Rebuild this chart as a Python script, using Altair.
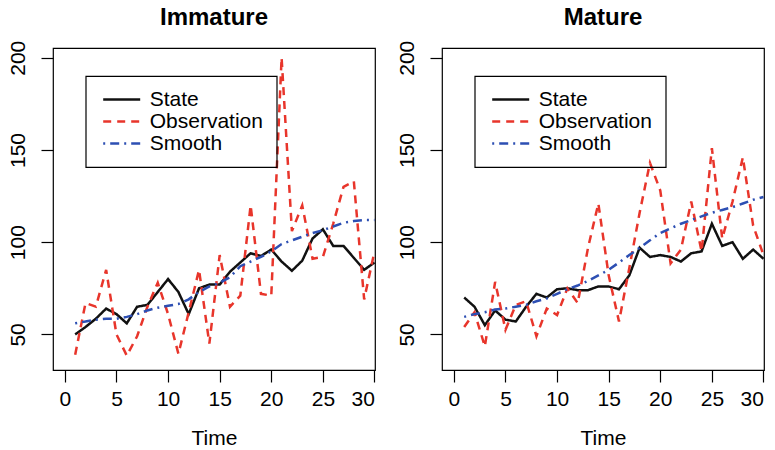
import altair as alt
import pandas as pd

# ---------------- data ----------------
time = list(range(1, 31))

imm_state = [50, 54, 58.5, 64, 61, 56, 65, 66, 73, 80, 73, 61, 75, 77, 77,
             84, 89, 94, 92.5, 96, 89.5, 84.5, 90, 102, 107, 98, 98, 91.5, 85, 89]
imm_obs = [39, 67, 65, 85, 50, 38.5, 49, 65, 78, 61, 39.5, 62, 85, 45, 93,
           65, 71, 120, 72, 71, 200, 106, 120, 91, 92, 110, 130, 133, 69, 95]
imm_smooth = [56, 57, 58, 58.5, 58.5, 59.5, 61, 63, 64.5, 65.5, 66.5, 69, 73, 76, 78,
              81, 87, 89.5, 92, 95, 99, 101, 103, 105, 106.5, 108.5, 110.5, 111.5, 112, 112]

mat_state = [70, 65, 55, 63, 58, 57, 65, 72, 70, 74.5, 75, 74, 74, 76, 76,
             74.5, 82, 97, 92, 93, 92, 89.5, 94, 95, 110, 98, 100, 91, 96, 91]
mat_obs = [54, 62, 43.5, 78.5, 52.5, 66, 68, 49, 64, 60.5, 75, 67, 97, 121, 82,
           57, 86, 116, 143, 128, 88.5, 96, 122, 95, 151, 102, 122, 146, 109, 93]
mat_smooth = [59.5, 61, 62, 63.5, 64, 65, 66, 68, 69.5, 72, 74.5, 76.5, 79, 82, 85,
              89, 93, 97, 101, 105, 107.5, 110, 112, 114, 116, 117.5, 119, 121, 123, 124.5]

series_order = ["State", "Observation", "Smooth"]
series_colors = ["#111111", "#e8352b", "#2d4fb3"]
series_dashes = [[1, 0], [8, 6], [2, 5, 9, 5]]

x_ticks = [0, 5, 10, 15, 20, 25, 30]
y_ticks = [50, 100, 150, 200]

FONT = "Liberation Sans"


def panel(title, state, obs, smooth):
    df = pd.DataFrame({
        "Time": time * 3,
        "value": state + obs + smooth,
        "series": ["State"] * 30 + ["Observation"] * 30 + ["Smooth"] * 30,
    })
    legend = alt.Legend(
        title=None, orient="none", legendX=32.7, legendY=28,
        strokeColor="black", padding=13, symbolType="stroke",
        symbolSize=1369, symbolStrokeWidth=2.5, symbolOffset=3,
        labelFontSize=21, labelFont=FONT, labelColor="black",
        labelOffset=8, rowPadding=0, clipHeight=21,
    )
    base = alt.Chart(df).mark_line(strokeWidth=2.5, clip=True).encode(
        x=alt.X("Time:Q",
                scale=alt.Scale(domain=[-1.15, 30.05], nice=False, zero=False),
                axis=alt.Axis(values=x_ticks, title="Time", format="d",
                              labelPadding=6, titlePadding=18)),
        y=alt.Y("value:Q",
                scale=alt.Scale(domain=[30.7, 205.3], nice=False, zero=False),
                axis=alt.Axis(values=y_ticks, title=None, labelAngle=270,
                              labelAlign="center", labelBaseline="bottom",
                              labelPadding=13)),
        color=alt.Color("series:N",
                        scale=alt.Scale(domain=series_order, range=series_colors),
                        legend=legend),
        strokeDash=alt.StrokeDash("series:N",
                                  scale=alt.Scale(domain=series_order, range=series_dashes),
                                  legend=legend),
    )
    layers = [base.transform_filter(alt.datum.series == s) for s in series_order]
    return alt.layer(*layers, title=alt.TitleParams(title, frame="group")).properties(
        width=322, height=322)


chart = alt.hconcat(
    panel("Immature", imm_state, imm_obs, imm_smooth),
    panel("Mature", mat_state, mat_obs, mat_smooth),
    spacing=67, bounds="flush",
    padding={"left": 6, "top": 5, "right": 0, "bottom": 0},
).resolve_scale(
    color="independent", strokeDash="independent"
).resolve_legend(
    color="independent", strokeDash="independent"
).configure_view(
    stroke="black", strokeWidth=1.2
).configure_axis(
    domain=False, grid=False, tickColor="black", tickSize=12, tickWidth=1.2,
    labelFont=FONT, labelFontSize=21, labelColor="black",
    titleFont=FONT, titleFontSize=21, titleFontWeight="normal", titleColor="black",
).configure_title(
    font=FONT, fontSize=24, fontWeight="bold", offset=10, anchor="middle", color="black"
).configure_legend(
    strokeWidth=1.2
)

chart.save("out.html", embed_options={"renderer": "svg", "actions": False})
